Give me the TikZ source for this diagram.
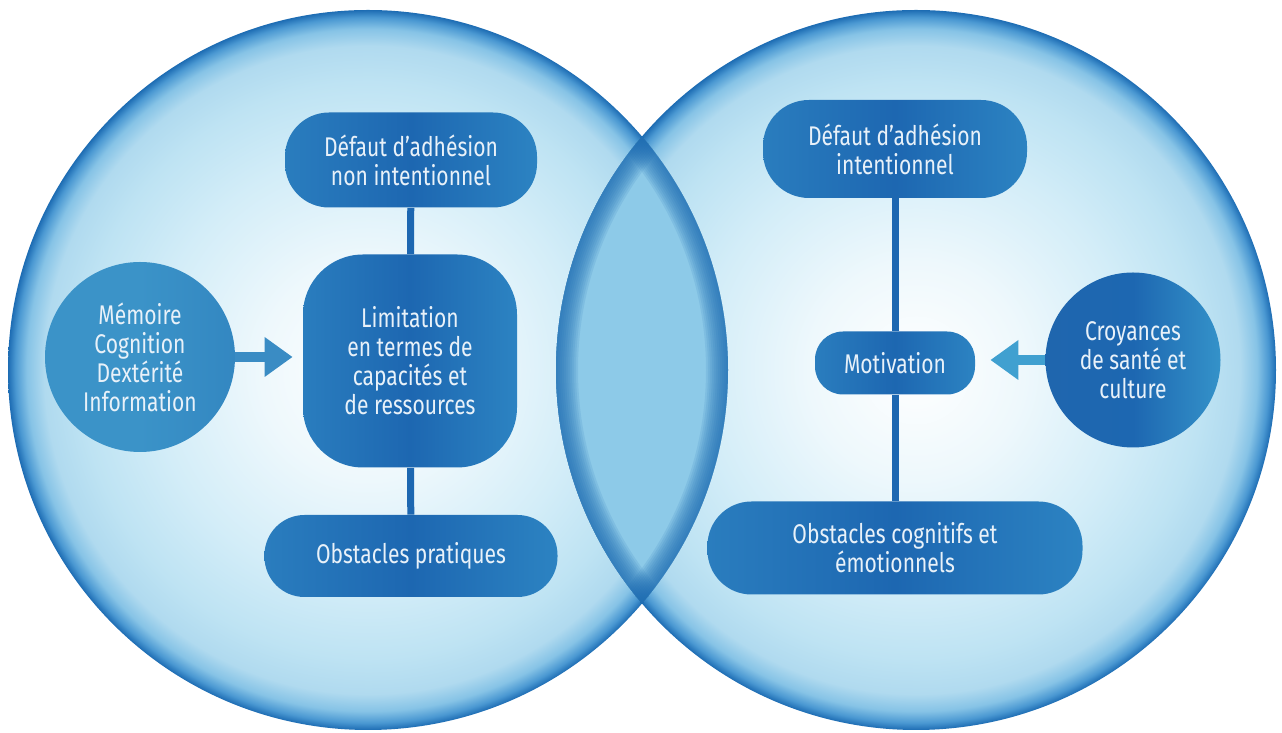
\documentclass[tikz,border=0pt]{standalone}
\usepackage{fontspec}
\setmainfont{Fira Sans}[FakeStretch=0.78]
\usetikzlibrary{arrows.meta}
\definecolor{rim}{HTML}{1D6CB3}
\definecolor{bubA}{HTML}{EEF8FC}
\definecolor{bubB}{HTML}{D3EDF8}
\definecolor{bubC}{HTML}{BEE3F3}
\definecolor{bubD}{HTML}{B0DAEF}
\definecolor{bubE}{HTML}{86C3E6}
\definecolor{bubF}{HTML}{4A98D2}
\definecolor{lens}{HTML}{8DCAE8}
\definecolor{boxa}{HTML}{2A7DBE}
\definecolor{boxb}{HTML}{1D67B1}
\definecolor{boxc}{HTML}{2C83C2}
\definecolor{mema}{HTML}{3B93C8}
\definecolor{memb}{HTML}{3387C1}
\definecolor{croya}{HTML}{1F66AE}
\definecolor{croyb}{HTML}{3492C9}
\definecolor{flecheG}{HTML}{3A8CC4}
\definecolor{flecheD}{HTML}{40A0D0}
\definecolor{txt}{HTML}{E8F1F9}
\pgfdeclareradialshading{bulle}{\pgfpoint{0bp}{0bp}}{color(0bp)=(white); color(7.5bp)=(bubA); color(15bp)=(bubB); color(20bp)=(bubC); color(22.5bp)=(bubD); color(23.7bp)=(bubE); color(24.5bp)=(bubF); color(25bp)=(rim); color(50bp)=(rim)}

\begin{document}
\begin{tikzpicture}[x=0.5pt,y=0.5pt,
    box/.style={left color=boxa, right color=boxc, middle color=boxb, text=txt, align=center,
      inner sep=0pt, font=\fontsize{13.5}{14.5}\selectfont},
    rond/.style={box, circle},
    trait/.style={boxb, line width=3.5pt},
    fleche/.style={line width=5pt, -{Triangle[length=14pt,width=19pt]}}]
    \useasboundingbox (0,0) rectangle (1282,733);
          \coordinate (cg) at (368,363);
          \coordinate (cd) at (916,363);
          \shade [shading=bulle] (cg) circle (180pt);
          \shade [shading=bulle] (cd) circle (180pt);
          \begin{scope}
            \clip (cg) circle (180pt);
            \fill [lens] (cd) circle (180pt);
            \clip (cd) circle (180pt);
            \foreach \w in {2,4,...,22} {
              \draw [rim, opacity=0.12, line width=\w pt] (cg) circle (180pt);
              \draw [rim, opacity=0.12, line width=\w pt] (cd) circle (180pt);
            }
          \end{scope}
          % cercle de gauche
          \node [box, rounded corners=22pt, minimum width=126pt, minimum height=47.5pt] (defG) at (411,573) {D\'efaut d'adh\'esion\\non intentionnel};
          \node [box, rounded corners=30pt, minimum width=107pt, minimum height=106.5pt] (limit) at (410,372) {Limitation\\en termes de\\capacit\'es et\\de ressources};
          \node [box, rounded corners=20pt, minimum width=146.5pt, minimum height=41pt] (obsP) at (411,177) {Obstacles pratiques};
          \node [rond, left color=mema, right color=memb, middle color=mema, minimum size=95pt] (mem) at (140,376) {M\'emoire\\Cognition\\Dext\'erit\'e\\Information};
          \draw [trait] (defG) -- (limit);
          \draw [trait] (limit) -- (obsP);
          \draw [fleche, flecheG, shorten >=5pt] (mem.east) -- (mem.east -| limit.west);
          % cercle de droite
          \node [box, rounded corners=23pt, minimum width=132pt, minimum height=49pt] (defD) at (895,584) {D\'efaut d'adh\'esion\\intentionnel};
          \node [box, rounded corners=14pt, minimum width=80pt, minimum height=31.5pt] (motiv) at (895,370) {Motivation};
          \node [box, rounded corners=22pt, minimum width=187.5pt, minimum height=46.5pt] (obsC) at (895,185) {Obstacles cognitifs et\\\'emotionnels};
          \node [rond, left color=croya, right color=croyb, middle color=boxb, minimum size=87.5pt] (croy) at (1133,373) {Croyances\\de sant\'e et\\culture};
          \draw [trait] (defD) -- (motiv);
          \draw [trait] (motiv) -- (obsC);
          \draw [fleche, flecheD, shorten >=7.5pt] (croy.west) -- (croy.west -| motiv.east);
\end{tikzpicture}
\end{document}
